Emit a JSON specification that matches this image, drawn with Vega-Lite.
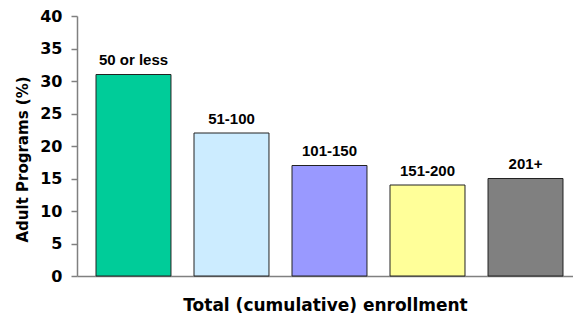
{
  "$schema": "https://vega.github.io/schema/vega-lite/v6.json",
  "autosize": {"type": "none"},
  "padding": {"left": 77, "top": 16, "right": 0, "bottom": 40},
  "width": 496,
  "height": 260,
  "background": "white",
  "data": {
    "values": [
      {"group": "50 or less", "pct": 31, "color": "#00CC99"},
      {"group": "51-100", "pct": 22, "color": "#CCECFF"},
      {"group": "101-150", "pct": 17, "color": "#9999FF"},
      {"group": "151-200", "pct": 14, "color": "#FFFF99"},
      {"group": "201+", "pct": 15, "color": "#808080"}
    ]
  },
  "encoding": {
    "x": {
      "field": "group",
      "type": "nominal",
      "sort": null,
      "scale": {"paddingInner": 0.235, "paddingOuter": 0.148, "align": 0.655},
      "axis": {
        "title": "Total (cumulative) enrollment",
        "labels": false,
        "ticks": false,
        "domainColor": "#808080",
        "domainWidth": 1.5,
        "titleFont": "DejaVu Sans",
        "titleFontSize": 17,
        "titleFontWeight": "bold",
        "titleColor": "black",
        "titleBaseline": "alphabetic",
        "titleY": 34
      }
    },
    "y": {
      "field": "pct",
      "type": "quantitative",
      "scale": {"domain": [0, 40], "nice": false},
      "axis": {
        "title": "Adult Programs (%)",
        "values": [0, 5, 10, 15, 20, 25, 30, 35, 40],
        "grid": false,
        "domainColor": "#808080",
        "domainWidth": 1.5,
        "tickColor": "#808080",
        "tickSize": 6,
        "tickWidth": 1.5,
        "labelPadding": 9,
        "labelFont": "DejaVu Sans",
        "labelFontSize": 16,
        "labelFontWeight": "bold",
        "labelColor": "black",
        "titleFont": "DejaVu Sans",
        "titleFontSize": 15,
        "titleFontWeight": "bold",
        "titleColor": "black",
        "titleBaseline": "alphabetic",
        "titleX": -50,
        "titleY": 143
      }
    }
  },
  "layer": [
    {
      "mark": {"type": "bar", "stroke": "#222222", "strokeWidth": 1},
      "encoding": {
        "color": {"field": "color", "type": "nominal", "scale": null}
      }
    },
    {
      "mark": {
        "type": "text",
        "baseline": "alphabetic",
        "dy": -9.5,
        "font": "Liberation Sans",
        "fontSize": 15,
        "fontWeight": "bold",
        "color": "black"
      },
      "encoding": {
        "text": {"field": "group", "type": "nominal"}
      }
    }
  ],
  "config": {"view": {"stroke": null}}
}
